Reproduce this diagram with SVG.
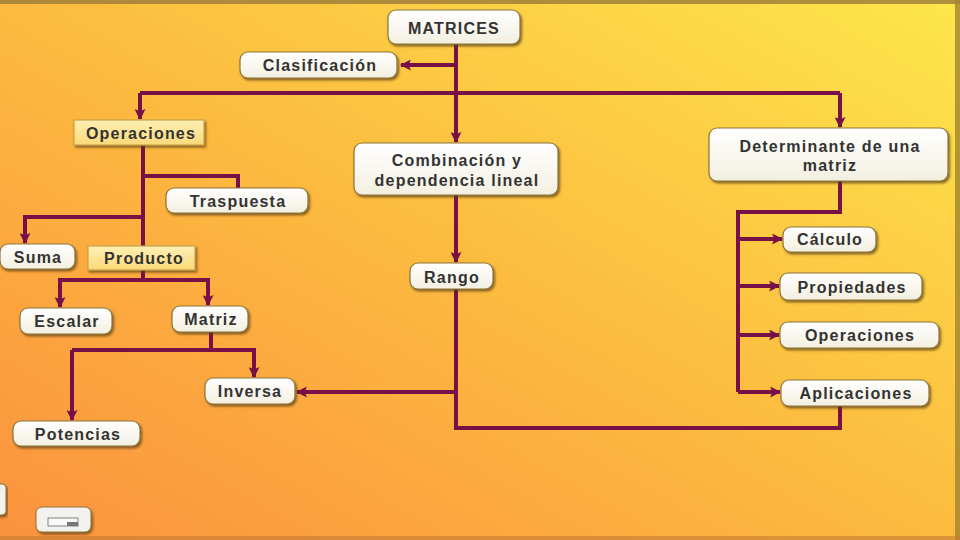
<svg xmlns="http://www.w3.org/2000/svg" width="960" height="540" viewBox="0 0 960 540">
<defs>
<linearGradient id="bg" x1="0" y1="1" x2="1" y2="0">
<stop offset="0" stop-color="#fb923f"/>
<stop offset="0.5" stop-color="#fcbb3f"/>
<stop offset="1" stop-color="#fde64c"/>
</linearGradient>
<linearGradient id="nodeFill" x1="0" y1="0" x2="0" y2="1">
<stop offset="0" stop-color="#ffffff"/>
<stop offset="1" stop-color="#f3efe0"/>
</linearGradient>
<linearGradient id="boxFill" x1="0" y1="0" x2="0" y2="1">
<stop offset="0" stop-color="#fef0b4"/>
<stop offset="1" stop-color="#fbd978"/>
</linearGradient>
<filter id="sh" x="-10%" y="-20%" width="125%" height="150%">
<feDropShadow dx="1.5" dy="2" stdDeviation="1" flood-color="#5a3a10" flood-opacity="0.7"/>
</filter>
<marker id="ah" viewBox="0 0 10 10" refX="9" refY="5" markerWidth="11" markerHeight="11" markerUnits="userSpaceOnUse" orient="auto">
<path d="M0,0 L10,5 L0,10 L2,5 Z" fill="#781048"/>
</marker>
</defs>
<style>
.n rect{fill:url(#nodeFill);stroke:#8c7638;stroke-width:1.2;filter:url(#sh)}
.b rect{fill:url(#boxFill);stroke:#c9a24a;stroke-width:1.2;filter:url(#sh)}
text{font-family:"Liberation Sans",Arial,sans-serif;font-weight:bold;font-size:16px;fill:#333333;text-anchor:middle;dominant-baseline:central;letter-spacing:1.2px}
.c path{fill:none;stroke:#781048;stroke-width:4;stroke-linejoin:miter}
.c .a{marker-end:url(#ah)}
</style>
<rect x="0" y="0" width="960" height="540" fill="url(#bg)"/>
<rect x="0" y="0" width="960" height="4" fill="#9a7a3a" opacity="0.8"/>
<rect x="955" y="0" width="5" height="540" fill="#a08430" opacity="0.8"/>
<rect x="0" y="536" width="960" height="4" fill="#c47a30" opacity="0.6"/>

<g class="c" id="connectors">
<path class="a" d="M456,65 L401,65"/>
<path d="M456,44 L456,93"/>
<path class="a" d="M456,93 L456,142"/>
<path d="M140,93 L840,93"/>
<path class="a" d="M140,93 L140,119"/>
<path class="a" d="M840,93 L840,127"/>
<path d="M143,145 L143,246"/>
<path d="M143,176 L238,176 L238,189"/>
<path class="a" d="M143,217 L25,217 L25,243"/>
<path d="M143,270 L143,280"/>
<path class="a" d="M143,280 L60,280 L60,307"/>
<path class="a" d="M143,280 L208,280 L208,305"/>
<path d="M211,332 L211,350"/>
<path class="a" d="M72,350 L254,350 L254,377"/>
<path class="a" d="M72,350 L72,420"/>
<path class="a" d="M456,195 L456,262"/>
<path d="M456,289 L456,428 L840,428 L840,406"/>
<path class="a" d="M456,392 L297,392"/>
<path d="M840,181 L840,212 L738,212 L738,392"/>
<path class="a" d="M738,239 L782,239"/>
<path class="a" d="M738,286 L779,286"/>
<path class="a" d="M738,335 L779,335"/>
<path class="a" d="M738,392 L780,392"/>
</g>

<g class="n" id="matrices"><rect x="388" y="10" width="132" height="34" rx="8"/><text x="454" y="28">MATRICES</text></g>
<g class="n" id="clasificacion"><rect x="240" y="52" width="157" height="26" rx="8"/><text x="320" y="65">Clasificación</text></g>
<g class="b" id="operaciones"><rect x="74" y="120" width="130" height="25"/><text x="141" y="133">Operaciones</text></g>
<g class="n" id="traspuesta"><rect x="166" y="188" width="142" height="25" rx="8"/><text x="238" y="201">Traspuesta</text></g>
<g class="n" id="suma"><rect x="0" y="244" width="75" height="25" rx="8"/><text x="38" y="257">Suma</text></g>
<g class="b" id="producto"><rect x="88" y="246" width="107" height="24"/><text x="144" y="258">Producto</text></g>
<g class="n" id="escalar"><rect x="20" y="308" width="92" height="26" rx="8"/><text x="67" y="321">Escalar</text></g>
<g class="n" id="matriz"><rect x="172" y="306" width="76" height="26" rx="8"/><text x="211" y="319">Matriz</text></g>
<g class="n" id="inversa"><rect x="205" y="378" width="90" height="26" rx="8"/><text x="250" y="391">Inversa</text></g>
<g class="n" id="potencias"><rect x="13" y="421" width="127" height="25" rx="8"/><text x="78" y="434">Potencias</text></g>
<g class="n" id="combinacion"><rect x="354" y="143" width="204" height="52" rx="8"/><text x="457" y="160">Combinación y</text><text x="457" y="180">dependencia lineal</text></g>
<g class="n" id="rango"><rect x="410" y="263" width="83" height="26" rx="8"/><text x="452" y="277">Rango</text></g>
<g class="n" id="determinante"><rect x="709" y="128" width="239" height="53" rx="8"/><text x="830" y="146">Determinante de una</text><text x="830" y="165">matriz</text></g>
<g class="n" id="calculo"><rect x="783" y="227" width="93" height="25" rx="8"/><text x="830" y="239">Cálculo</text></g>
<g class="n" id="propiedades"><rect x="780" y="273" width="142" height="27" rx="8"/><text x="852" y="287">Propiedades</text></g>
<g class="n" id="operaciones2"><rect x="780" y="322" width="159" height="26" rx="8"/><text x="860" y="335">Operaciones</text></g>
<g class="n" id="aplicaciones"><rect x="781" y="380" width="148" height="26" rx="8"/><text x="856" y="393">Aplicaciones</text></g>

<g id="buttons">
<rect x="-6" y="484" width="12" height="31" rx="4" fill="#f4f2ee" stroke="#8c7638" filter="url(#sh)"/>
<rect x="36" y="507" width="55" height="25" rx="6" fill="#f4f2ee" stroke="#8c7638" filter="url(#sh)"/>
<rect x="48" y="518" width="30" height="8" fill="#f8f8f8" stroke="#666" stroke-width="0.8"/>
<rect x="67" y="522" width="11" height="4" fill="#777"/>
</g>
</svg>
